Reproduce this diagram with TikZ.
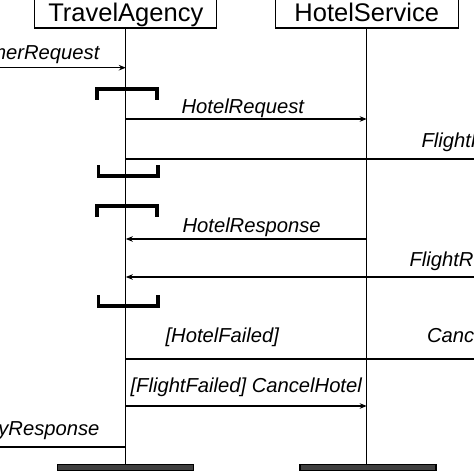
\documentclass[tikz,border=0pt]{standalone}
\usepackage{fontspec}
\setmainfont{Liberation Sans}
\usetikzlibrary{arrows.meta}

\begin{document}
\begin{tikzpicture}[x=1pt, y=-1pt, >={Stealth[length=7pt, width=5.5pt]}, line width=1.2pt]
    \tikzset{
        head/.style={draw, fill=white, inner sep=0pt, text height=27pt, text depth=6pt, anchor=south, font=\fontsize{25.5}{30}\selectfont},
        endbar/.style={draw, fill=black!75, minimum width=136pt, minimum height=6.5pt, inner sep=0pt},
        lbl/.style={anchor=base west, inner sep=0pt, font=\fontsize{20.2}{24}\selectfont\itshape},
        bracket/.style={line width=3.5pt, line join=miter}
    };
    \useasboundingbox (0,0) rectangle (474,474);
    \clip (0,0) rectangle (474,474);
    % Heads
    \node[head, minimum width=182pt] (ta) at (125.8, 28.5) {TravelAgency};
    \node[head, minimum width=183pt] (hs) at (366.7, 28.5) {HotelService};
    \fill[black!65] (ta.north west) rectangle ([yshift=-6pt]ta.north east);
    \fill[black!65] (hs.north west) rectangle ([yshift=-6pt]hs.north east);
    % Lifelines
    \node[endbar] (taend) at (125.8, 467.5) {};
    \node[endbar] (hsend) at (368, 467.5) {};
    \draw (ta) -- (ta |- taend.north);
    \draw (hs) -- (hs |- hsend.north);
    % Points
    \foreach \n/\y in {a0/67.7, a1/119, a2/159, a3/239, a4/277, a5/359, a6/406, a7/447}
        \coordinate (\n) at (125.8, \y);
    \coordinate (cin)  at (-10, 67.7);
    \coordinate (cout) at (-10, 447);
    \coordinate (f1) at (490, 159);
    \coordinate (f2) at (490, 277);
    \coordinate (f3) at (490, 359);
    % Messages
    \draw[->] (cin) -- (a0);
    \draw[->] (a1) -- (a1 -| hs);
    \draw[->] (a2) -- (f1);
    \draw[->] (a3 -| hs) -- (a3);
    \draw[->] (f2) -- (a4);
    \draw[->] (a5) -- (f3);
    \draw[->] (a6) -- (a6 -| hs);
    \draw[->] (a7) -- (cout);
    \node[lbl, anchor=base east] (lin) at (100, 59) {merRequest};
    \node[lbl] (lhreq) at (181, 113) {HotelRequest};
    \node[lbl] (lfreq) at (421, 147) {FlightR};
    \node[lbl] (lhres) at (182, 232) {HotelResponse};
    \node[lbl] (lfres) at (409, 266) {FlightR};
    \node[lbl] (lhf) at (165, 342) {[HotelFailed]};
    \node[lbl] (lcf) at (426.5, 342) {Canc};
    \node[lbl] (lff) at (130, 392) {[FlightFailed] CancelHotel};
    \node[lbl, anchor=base east] (lout) at (100, 435) {yResponse};
    % Brackets
    \foreach \y in {89, 206}
        \draw[bracket] (97, \y+10.5) -- (97, \y) -- (157, \y) -- (157, \y+10.5);
    \foreach \y in {176, 306}
        \draw[bracket] (98.5, \y-11) -- (98.5, \y) -- (158, \y) -- (158, \y-11);
\end{tikzpicture}
\end{document}
